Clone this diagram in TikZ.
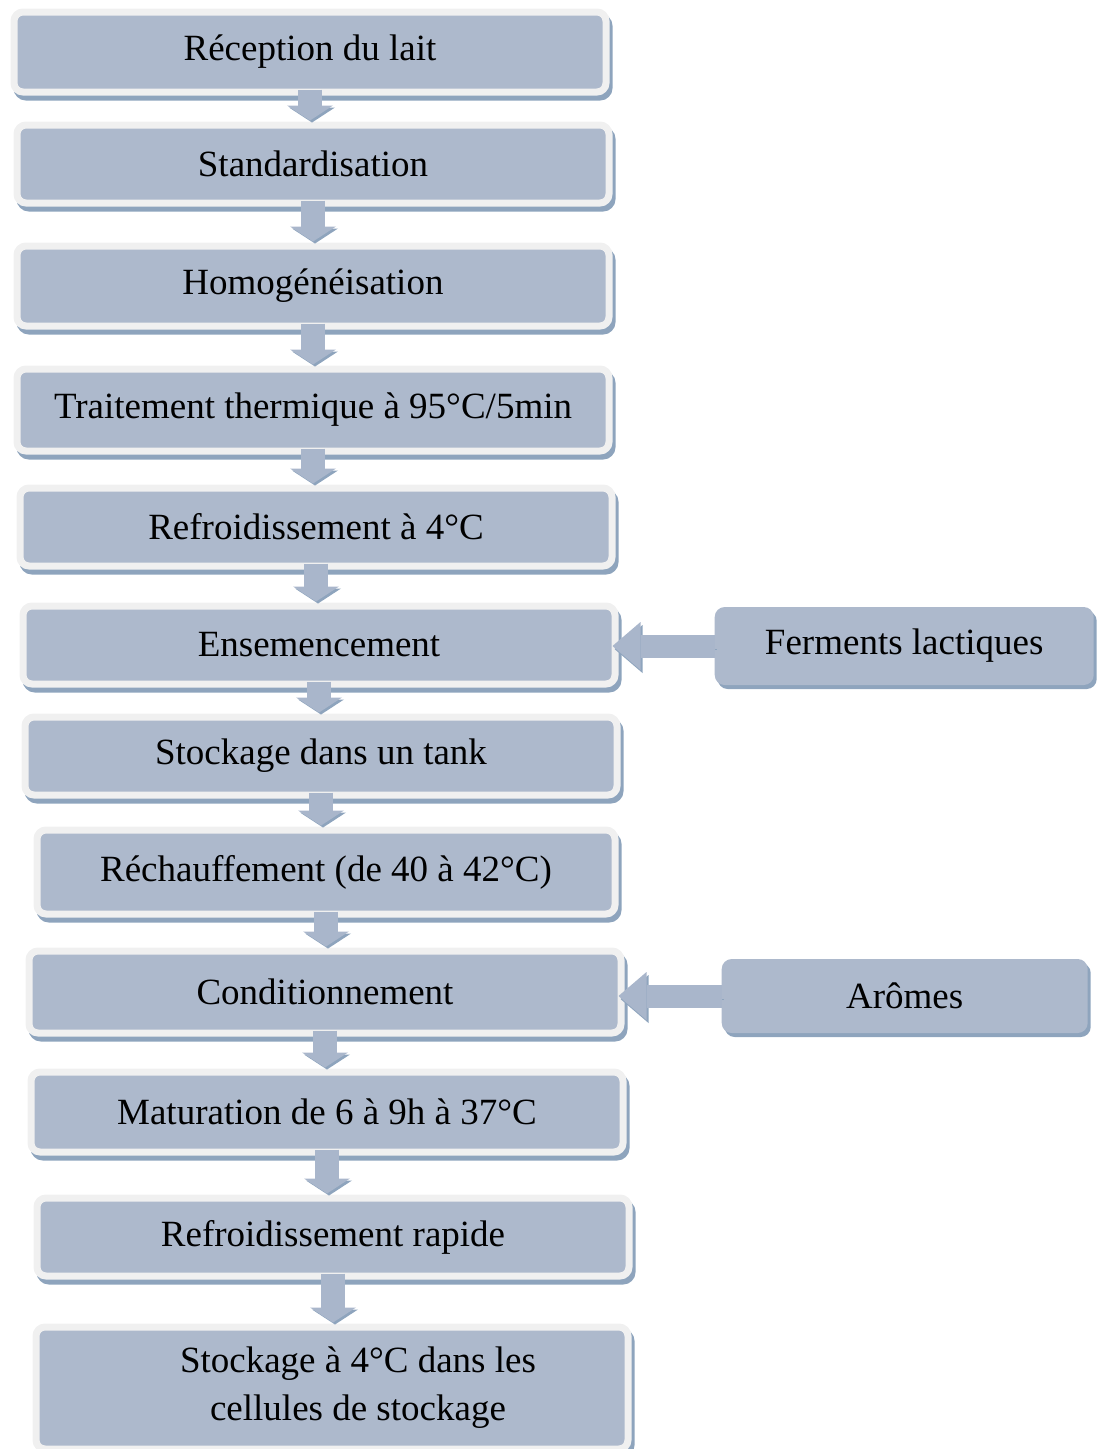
\documentclass[tikz,border=0pt]{standalone}
\usepackage{fontspec}
\setmainfont{Liberation Serif}
\usepackage{xcolor}
\usepackage{tikz}
\usetikzlibrary{arrows.meta,positioning,shadows}

\definecolor{boxfill}{HTML}{ADB9CC}
\definecolor{boxrim}{HTML}{F0F0F0}
\definecolor{boxshade}{HTML}{8EA4BD}
\definecolor{arrfill}{HTML}{A9B6CB}

\begin{document}
\begin{tikzpicture}[
    x=1pt, y=-1pt,
    every node/.style={font=\fontsize{37}{48}\selectfont, align=center},
    stage/.style={fill=boxfill, draw=boxrim, line width=7pt, rounded corners=9pt, minimum width=592pt, minimum height=80pt,
        drop shadow={shadow xshift=3pt, shadow yshift=-5pt, fill=boxshade, draw=boxshade, opacity=1}},
    input/.style={fill=boxfill, rounded corners=10pt, minimum height=78pt,
        drop shadow={shadow xshift=3pt, shadow yshift=-4pt, fill=boxshade, opacity=1}},
    darr/.style={draw=arrfill, line width=24pt, -{Triangle[length=15pt, width=46pt, line width=0pt 0]}, shorten <=-6pt, shorten >=1pt,
        preaction={draw=boxshade, transform canvas={xshift=2pt, yshift=-2pt}}},
    sarr/.style={draw=arrfill, line width=23pt, -{Triangle[length=28pt, width=48pt, line width=0pt 0]}, shorten >=-6pt,
        preaction={draw=boxshade, transform canvas={xshift=2pt, yshift=-3pt}}},
]
\useasboundingbox (0,0) rectangle (1104,1449);

% Process steps
\node[stage] (rec) at (310,52) {Réception du lait};
\node[stage, minimum height=78pt] (std) at (313,164) {Standardisation};
\node[stage] (hom) at (313,286) {Homogénéisation};
\node[stage, minimum height=82pt] (trt) at (313,410) {Traitement thermique à 95°C/5min};
\node[stage, minimum height=78pt] (ref) at (316,527) {Refroidissement à 4°C};
\node[stage, minimum height=78pt] (ens) at (319,645) {Ensemencement};
\node[stage, minimum height=78pt] (stk) at (321,756) {Stockage dans un tank};
\node[stage, minimum width=578pt, minimum height=84pt] (rch) at (326,872) {Réchauffement (de 40 à 42°C)};
\node[stage, minimum height=82pt] (cond) at (325,992) {Conditionnement};
\node[stage] (mat) at (327,1112) {Maturation de 6 à 9h à 37°C};
\node[stage, minimum height=78pt] (rap) at (333,1237) {Refroidissement rapide};
\node[stage, minimum height=122pt] (fin) at (332,1388) {\hspace*{52pt}Stockage à 4°C dans les\\\hspace*{52pt}cellules de stockage};

% Added ingredients
\node[input, minimum width=379pt, right=96pt of ens, yshift=-1pt] (fer) {Ferments lactiques};
\node[input, minimum width=366pt, minimum height=74pt, right=97pt of cond, yshift=-4pt] (aro) {Arômes};

% Main flow
\draw[darr] (rec.south) -- (rec.south |- std.north);
\draw[darr] (std.south) -- (std.south |- hom.north);
\draw[darr] (hom.south) -- (hom.south |- trt.north);
\draw[darr] (trt.south) -- (trt.south |- ref.north);
\draw[darr] (ref.south) -- (ref.south |- ens.north);
\draw[darr] (ens.south) -- (ens.south |- stk.north);
\draw[darr] (stk.south) -- (stk.south |- rch.north);
\draw[darr] (rch.south) -- (rch.south |- cond.north);
\draw[darr] (cond.south) -- (cond.south |- mat.north);
\draw[darr] (mat.south) -- (mat.south |- rap.north);
\draw[darr] (rap.south) -- (rap.south |- fin.north);

% Side inputs
\draw[sarr] (fer.west) -- (fer.west -| ens.east);
\draw[sarr] (aro.west) -- (aro.west -| cond.east);
\end{tikzpicture}
\end{document}
